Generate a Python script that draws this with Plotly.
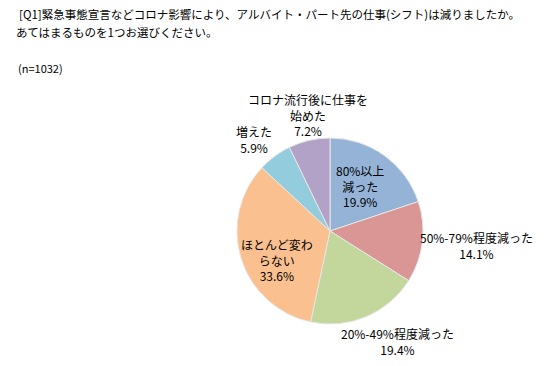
import plotly.graph_objects as go

categories = ["80%以上<br>減った", "50%-79%程度減った", "20%-49%程度減った",
              "ほとんど変わ<br>らない", "増えた", "コロナ流行後に仕事を<br>始めた"]
values = [19.9, 14.1, 19.4, 33.6, 5.9, 7.2]
colors = ["#95B3D7", "#D99694", "#C3D69B", "#FAC090", "#93CDDD", "#B3A2C7"]

title_lines = ["[Q1]緊急事態宣言などコロナ影響により、アルバイト・パート先の仕事(シフト)は減りましたか。",
               "あてはまるものを1つお選びください。"]
n_label = "(n=1032)"

# label centre positions (pixels from top-left of the page), styling only
label_pos = [(360, 186), (476, 246), (397, 341), (277, 260), (254, 140), (308, 115)]

W, H = 550, 366
OFF = 8  # page body margin offset
FONT = "Noto Sans CJK JP"


def px(x):
    return (x - OFF) / W


def py(y):
    return 1 - (y - OFF) / H


fig = go.Figure(go.Pie(
    labels=categories, values=values, sort=False, direction="clockwise", rotation=0,
    marker=dict(colors=colors, line=dict(color="#E6E6E6", width=1)),
    textinfo="none", hoverinfo="label+percent", showlegend=False,
    domain=dict(x=[px(237), px(423)], y=[py(324), py(138)]),
))

ann = []
for (lab, v), (x, y) in zip(zip(categories, values), label_pos):
    ann.append(dict(x=px(x), y=py(y), xref="paper", yref="paper",
                    text=f"{lab}<br>{v:.1f}%", showarrow=False, align="center",
                    xanchor="center", yanchor="middle",
                    font=dict(family=FONT, size=12, color="#000")))
ann.append(dict(x=px(269), y=py(14), xref="paper", yref="paper", text=title_lines[0],
                showarrow=False, xanchor="center", yanchor="middle",
                font=dict(family=FONT, size=11.5, color="#000")))
ann.append(dict(x=px(116), y=py(32), xref="paper", yref="paper", text=title_lines[1],
                showarrow=False, xanchor="center", yanchor="middle",
                font=dict(family=FONT, size=11.5, color="#000")))
ann.append(dict(x=px(40), y=py(68), xref="paper", yref="paper", text=n_label,
                showarrow=False, xanchor="center", yanchor="middle",
                font=dict(family=FONT, size=11, color="#000")))

fig.update_layout(width=W, height=H, margin=dict(l=0, r=0, t=0, b=0),
                  paper_bgcolor="white", plot_bgcolor="white", annotations=ann)
fig.write_html("out.html")
